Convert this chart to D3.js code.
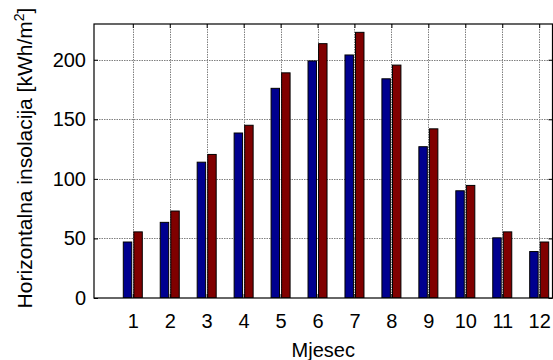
<!DOCTYPE html>
<html>
<head>
<meta charset="utf-8">
<script src="https://cdn.jsdelivr.net/npm/d3@7"></script>
<style>
  html, body { margin: 0; padding: 0; background: #fff; }
  svg { display: block; font-family: "Liberation Sans", Arial, Helvetica, sans-serif; }
</style>
</head>
<body>
<svg id="chart" width="553" height="360"></svg>
<script>
// Monthly horizontal insolation, two series per month (kWh/m^2)
const months = [1, 2, 3, 4, 5, 6, 7, 8, 9, 10, 11, 12];
const seriesA = [47, 63.5, 114, 138.5, 176, 199, 204, 184, 127, 90, 50.5, 39];
const seriesB = [55.5, 73, 120.5, 145, 189, 213.5, 223, 195.5, 142, 94.5, 55.5, 47];
const yTicks = [0, 50, 100, 150, 200];
const seriesColors = ["#00008f", "#800000"];

const W = 553, H = 360;
const plot = { left: 94, right: 552.5, top: 24, bottom: 298 };

const svg = d3.select("#chart");

const x = d3.scaleLinear().domain([-0.05, 13.05]).range([plot.left, 578]);
const y = d3.scaleLinear().domain([0, 230]).range([plot.bottom, plot.top]);

// grouped bar geometry (two bars per group)
const groupWidth = Math.min(0.8, 2 / (2 + 1.5));
const barW = groupWidth / 2 * 0.8;
const offsets = [-groupWidth / 4, groupWidth / 4];

svg.append("defs").append("clipPath").attr("id", "plotClip")
  .append("rect")
  .attr("x", plot.left).attr("y", plot.top)
  .attr("width", plot.right - plot.left).attr("height", plot.bottom - plot.top);

// dotted grid
const grid = svg.append("g").attr("clip-path", "url(#plotClip)");
grid.selectAll("line.gx").data(months).join("line")
  .attr("x1", d => Math.round(x(d)) + 0.5).attr("x2", d => Math.round(x(d)) + 0.5)
  .attr("y1", plot.top).attr("y2", plot.bottom)
  .attr("stroke", "#808080").attr("stroke-width", 1).attr("stroke-dasharray", "1.5,1");
grid.selectAll("line.gy").data(yTicks.filter(d => d > 0)).join("line")
  .attr("y1", d => Math.round(y(d)) + 0.5).attr("y2", d => Math.round(y(d)) + 0.5)
  .attr("x1", plot.left).attr("x2", plot.right)
  .attr("stroke", "#808080").attr("stroke-width", 1).attr("stroke-dasharray", "1.5,1");

// bars
const bars = svg.append("g").attr("clip-path", "url(#plotClip)");
[seriesA, seriesB].forEach((vals, si) => {
  bars.selectAll(null).data(months).join("rect")
    .attr("x", d => x(d + offsets[si] - barW / 2))
    .attr("width", x(barW) - x(0))
    .attr("y", (d, i) => y(vals[i]))
    .attr("height", (d, i) => y(0) - y(vals[i]))
    .attr("fill", seriesColors[si])
    .attr("stroke", "#000")
    .attr("stroke-width", 1);
});

// left axis (labels + inward ticks)
const yAxis = d3.axisLeft(y).tickValues(yTicks).tickSize(-4).tickPadding(8).tickFormat(d3.format("d"));
const gy = svg.append("g").attr("transform", `translate(${plot.left},0)`).call(yAxis);
gy.select(".domain").remove();
gy.selectAll(".tick text").attr("font-size", 20).attr("fill", "#000")
  .attr("font-family", "Liberation Sans, Arial, sans-serif");
gy.selectAll(".tick line").attr("stroke", "#000");

// right axis ticks
const gyr = svg.append("g").attr("transform", `translate(${plot.right},0)`)
  .call(d3.axisRight(y).tickValues(yTicks).tickSize(-4).tickFormat(""));
gyr.select(".domain").remove();
gyr.selectAll(".tick line").attr("stroke", "#000");

// bottom axis
const xAxis = d3.axisBottom(x).tickValues(months).tickSize(-4).tickPadding(15.5).tickFormat(d3.format("d"));
const gx = svg.append("g").attr("transform", `translate(0,${plot.bottom})`).call(xAxis);
gx.select(".domain").remove();
gx.selectAll(".tick text").attr("font-size", 20).attr("fill", "#000")
  .attr("font-family", "Liberation Sans, Arial, sans-serif");
gx.selectAll(".tick line").attr("stroke", "#000");

// top axis ticks
const gxt = svg.append("g").attr("transform", `translate(0,${plot.top})`)
  .call(d3.axisTop(x).tickValues(months).tickSize(-4).tickFormat(""));
gxt.select(".domain").remove();
gxt.selectAll(".tick line").attr("stroke", "#000");

// axes box
svg.append("rect")
  .attr("x", plot.left).attr("y", plot.top)
  .attr("width", plot.right - plot.left).attr("height", plot.bottom - plot.top)
  .attr("fill", "none").attr("stroke", "#000").attr("stroke-width", 1.2);

// axis titles
svg.append("text")
  .attr("x", (plot.left + plot.right) / 2).attr("y", 356.5)
  .attr("text-anchor", "middle").attr("font-size", 20).attr("fill", "#000")
  .text("Mjesec");

const yl = svg.append("text")
  .attr("transform", "translate(31.5,158) rotate(-90)")
  .attr("text-anchor", "middle").attr("font-size", 21).attr("fill", "#000");
yl.append("tspan").text("Horizontalna insolacija [kWh/m");
yl.append("tspan").attr("font-size", 14).attr("dy", -8).text("2");
yl.append("tspan").attr("dy", 8).text("]");
</script>
</body>
</html>
